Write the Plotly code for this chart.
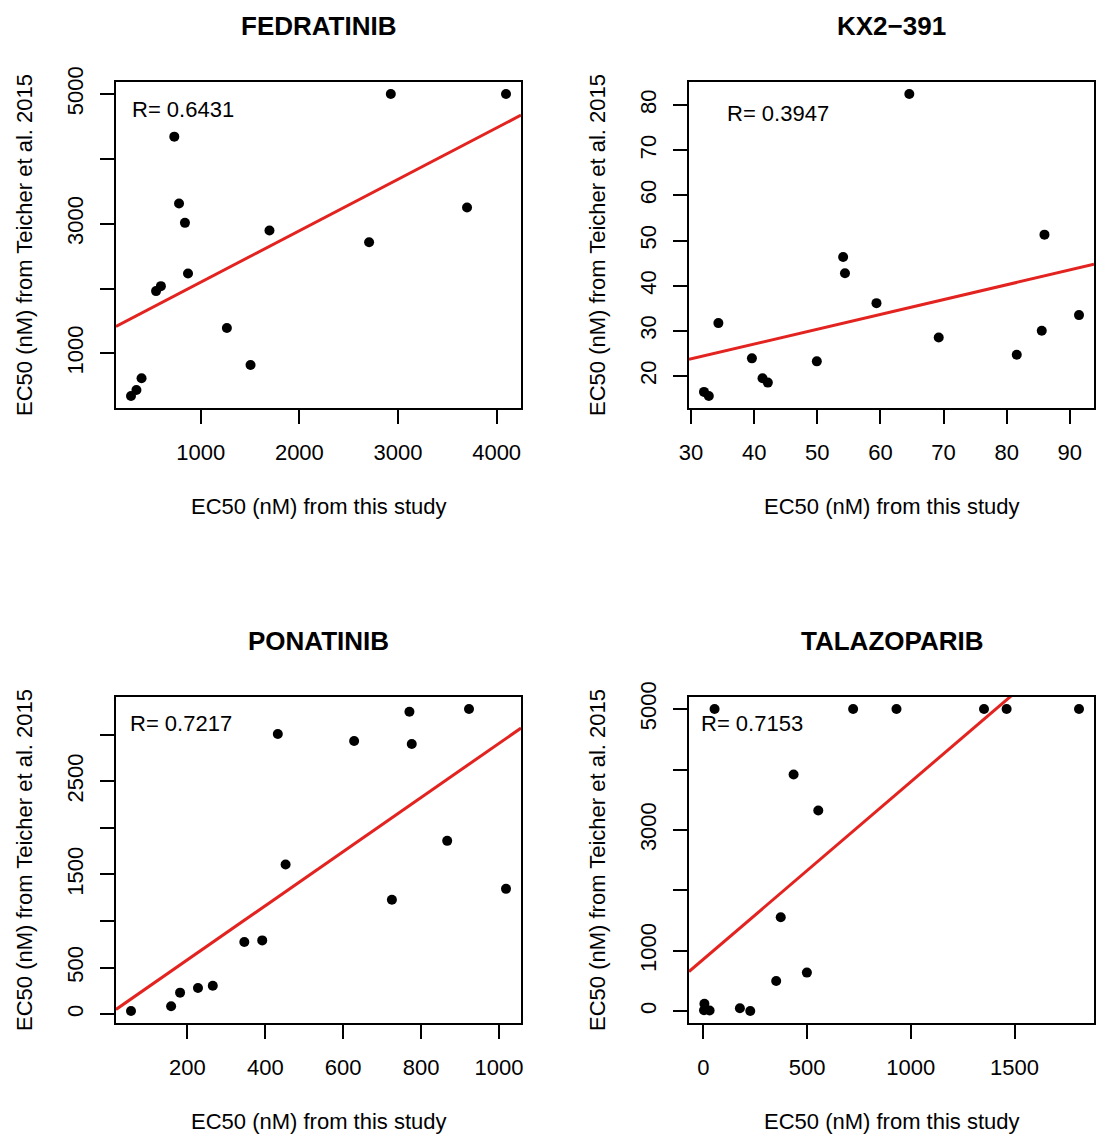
import numpy as np
import plotly.graph_objects as go

W, H = 1097, 1135

# ---------------- data ----------------
titles = ["FEDRATINIB", "KX2\u2212391", "PONATINIB", "TALAZOPARIB"]
r_labels = ["R= 0.6431", "R= 0.3947", "R= 0.7217", "R= 0.7153"]

fed_x = [293, 348, 400, 547, 596, 732, 780, 840, 871, 1265, 1505, 1697, 2707, 2927, 3700, 4095]
fed_y = [343, 435, 615, 1960, 2037, 4343, 3311, 3013, 2232, 1390, 820, 2895, 2715, 5000, 3249, 5000]

kx_x = [32.06, 32.82, 34.34, 39.65, 41.33, 42.17, 49.93, 54.1, 54.39, 59.38, 64.58, 69.24, 81.6, 85.56, 85.99, 91.46]
kx_y = [16.47, 15.58, 31.71, 23.9, 19.48, 18.53, 23.24, 46.36, 42.75, 36.13, 82.44, 28.54, 24.71, 30.0, 51.3, 33.48]

pon_x = [55, 158, 181, 227, 265, 346, 392, 432, 452, 628, 725, 770, 776, 867, 923, 1018]
pon_y = [36, 86, 232, 282, 307, 775, 793, 3007, 1607, 2932, 1229, 3246, 2900, 1861, 3275, 1346]

tal_x = [5, 3, 30, 176, 226, 351, 373, 435, 499, 554, 54, 722, 931, 1353, 1462, 1811]
tal_y = [125, 15, 12, 50, 5, 501, 1554, 3917, 639, 3322, 5000, 5000, 5000, 5000, 5000, 5000]

x_tickvals = [[1000, 2000, 3000, 4000], [30, 40, 50, 60, 70, 80, 90],
              [200, 400, 600, 800, 1000], [0, 500, 1000, 1500]]
x_ticktext = [["1000", "2000", "3000", "4000"], ["30", "40", "50", "60", "70", "80", "90"],
              ["200", "400", "600", "800", "1000"], ["0", "500", "1000", "1500"]]
y_tickvals = [[1000, 2000, 3000, 4000, 5000], [20, 30, 40, 50, 60, 70, 80],
              [0, 500, 1000, 1500, 2000, 2500, 3000], [0, 1000, 2000, 3000, 4000, 5000]]
y_ticktext = [["1000", "", "3000", "", "5000"], ["20", "30", "40", "50", "60", "70", "80"],
              ["0", "500", "", "1500", "", "2500", ""], ["0", "1000", "", "3000", "", "5000"]]

x_label = "EC50 (nM) from this study"
y_label = "EC50 (nM) from Teicher et al. 2015"

panels = [(fed_x, fed_y), (kx_x, kx_y), (pon_x, pon_y), (tal_x, tal_y)]

# ---------------- layout geometry (page pixels) ----------------
boxes = [(116, 521, 82, 408), (689, 1094, 82, 408),
         (116, 521, 697, 1023), (689, 1094, 697, 1023)]
r_pos = [(130, 110), (725, 113), (128, 723), (699, 723)]

FONT = "Liberation Sans, Arial, Helvetica, sans-serif"

def px(x):
    return x / W

def py(y):
    return 1 - y / H

def rrange(v):
    lo, hi = min(v), max(v)
    d = hi - lo
    return [lo - 0.04 * d, hi + 0.04 * d]

fig = go.Figure()
annotations = []
layout_axes = {}

for i, ((xs, ys), (l, r, t, b)) in enumerate(zip(panels, boxes)):
    n = i + 1
    xa = "x" if n == 1 else f"x{n}"
    ya = "y" if n == 1 else f"y{n}"
    xr = rrange(xs)
    yr = rrange(ys)

    fig.add_trace(go.Scatter(x=xs, y=ys, mode="markers", xaxis=xa, yaxis=ya,
                             marker=dict(color="black", size=10, line=dict(width=0)),
                             showlegend=False, hoverinfo="skip"))
    slope, intercept = np.polyfit(np.array(xs, float), np.array(ys, float), 1)
    lx = np.array(xr)
    fig.add_trace(go.Scatter(x=lx, y=intercept + slope * lx, mode="lines", xaxis=xa, yaxis=ya,
                             line=dict(color="#E3231F", width=3),
                             showlegend=False, hoverinfo="skip"))

    common = dict(showline=True, mirror=True, linecolor="black", linewidth=1.5,
                  ticks="outside", ticklen=14, tickwidth=1.5, tickcolor="black",
                  showgrid=False, zeroline=False, fixedrange=True, automargin=False,
                  tickfont=dict(family=FONT, size=22, color="black"))
    layout_axes["xaxis" if n == 1 else f"xaxis{n}"] = dict(
        common, domain=[px(l), px(r)], range=xr, anchor=ya,
        tickmode="array", tickvals=x_tickvals[i], ticktext=x_ticktext[i],
        ticklabelstandoff=10)
    layout_axes["yaxis" if n == 1 else f"yaxis{n}"] = dict(
        common, domain=[py(b), py(t)], range=yr, anchor=xa,
        tickmode="array", tickvals=y_tickvals[i], ticktext=y_ticktext[i],
        tickangle=-90, ticklabelstandoff=8)

    cx = (l + r) / 2
    cy = (t + b) / 2
    annotations.append(dict(text="<b>" + titles[i] + "</b>", x=px(cx), y=py(t - 56),
                            xref="paper", yref="paper", showarrow=False,
                            xanchor="center", yanchor="middle",
                            font=dict(family=FONT, size=26, color="black")))
    annotations.append(dict(text=x_label, x=px(cx), y=py(b + 98),
                            xref="paper", yref="paper", showarrow=False,
                            xanchor="center", yanchor="middle",
                            font=dict(family=FONT, size=22, color="black")))
    annotations.append(dict(text=y_label, x=px(l - 92), y=py(cy),
                            xref="paper", yref="paper", showarrow=False, textangle=-90,
                            xanchor="center", yanchor="middle",
                            font=dict(family=FONT, size=22, color="black")))
    annotations.append(dict(text=r_labels[i], x=px(r_pos[i][0]), y=py(r_pos[i][1]),
                            xref="paper", yref="paper", showarrow=False,
                            xanchor="left", yanchor="middle",
                            font=dict(family=FONT, size=22, color="black")))

fig.update_layout(width=W, height=H, margin=dict(l=0, r=0, t=0, b=0, pad=0),
                  autosize=False,
                  paper_bgcolor="white", plot_bgcolor="white",
                  annotations=annotations, **layout_axes)

fig.write_html("out.html", config={"displayModeBar": False},
               post_script="document.body.style.margin='0';")
